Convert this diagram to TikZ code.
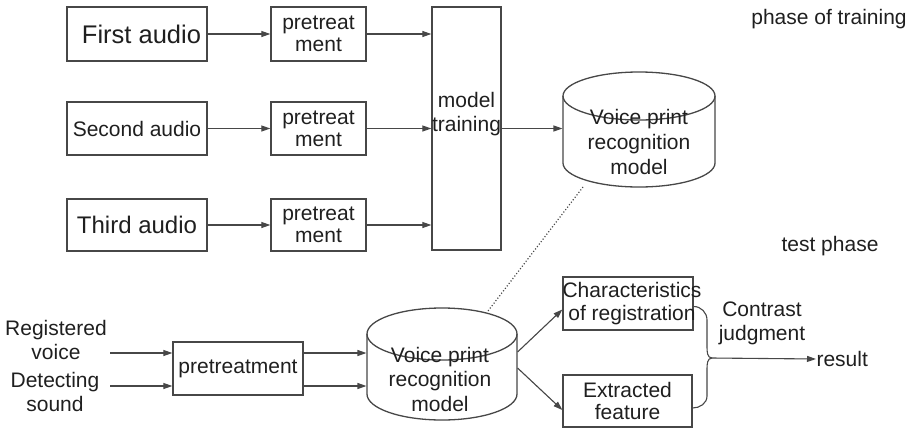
\documentclass[tikz,border=0pt]{standalone}
\usepackage{fontspec}
\setmainfont{Liberation Sans}
\usetikzlibrary{arrows.meta,calc}
\begin{document}
\begin{tikzpicture}[x=1pt,y=-1pt,
  line width=1.1pt,
  txt/.style={font=\fontsize{21}{24}\selectfont, text=black!88, inner sep=0pt, align=center},
  box/.style={draw=black!72, line width=1.3pt, rectangle, inner sep=0pt, align=center,
              font=\fontsize{21}{22}\selectfont, text=black!88},
  ghost/.style={rectangle, draw=none, inner sep=0pt},
  arr/.style={-{Triangle[length=9pt,width=6pt]}, line width=1.1pt, draw=black!72, fill=black!72},
  cyl/.style={draw=black!72, line width=1.3pt},
  ln/.style={draw=black!72, line width=1.1pt}
]
\useasboundingbox (0,0) rectangle (913,429);

% ---------- training phase ----------
\node[box, minimum width=140pt, minimum height=54pt] (a1) at (137,34) {};
\node[txt, font=\fontsize{25.5}{28}\selectfont] (a1t) at (141.5,34) {First audio};
\node[box, minimum width=140pt, minimum height=53pt] (a2) at (137,128.5) {Second audio};
\node[box, minimum width=140pt, minimum height=52pt, font=\fontsize{24}{26}\selectfont] (a3) at (137,225) {Third audio};

\node[box, minimum width=95pt, minimum height=54pt] (p1) at (318.5,34) {pretreat\\ment};
\node[box, minimum width=95pt, minimum height=53pt] (p2) at (318.5,128.5) {pretreat\\ment};
\node[box, minimum width=95pt, minimum height=52pt] (p3) at (318.5,225) {pretreat\\ment};

\node[box, minimum width=69pt, minimum height=243pt] (mt) at (466.5,128.5) {};
\node[txt] (mtt) at (466.5,114) {model\\training};

\draw[arr] (a1.east) -- (p1.west);
\draw[arr] (a2.east) -- (p2.west);
\draw[arr] (a3.east) -- (p3.west);
\draw[arr] (p1.east) -- (p1.east -| mt.west);
\draw[arr] (p2.east) -- (p2.east -| mt.west);
\draw[arr] (p3.east) -- (p3.east -| mt.west);

% top cylinder
\node[ghost, minimum width=152pt, minimum height=115pt] (vp1) at (639,129.5) {};
\draw[cyl] (639,96) ellipse[x radius=76, y radius=24];
\draw[cyl] (563,96) -- (563,163) arc[start angle=180, end angle=0, x radius=76, y radius=24] -- (715,96);
\node[txt, font=\fontsize{21}{25}\selectfont] (vp1t) at (639,142) {Voice print\\recognition\\model};

\draw[arr] (mt.east) -- (mt.east -| vp1.west);

\node[txt] (ph1) at (829,19) {phase of training};
\node[txt] (ph2) at (830,246) {test phase};

% ---------- test phase ----------
\node[txt] (rv) at (56,340) {Registered\\voice};
\node[txt] (ds) at (55,392) {Detecting\\sound};
\coordinate (rvs) at (110,353);
\coordinate (dss) at (110,386);

\node[box, minimum width=130pt, minimum height=53pt] (pt) at (238,368.5) {pretreatment};

\draw[arr] (rvs) -- (rvs -| pt.west);
\draw[arr] (dss) -- (dss -| pt.west);

% bottom cylinder
\node[ghost, minimum width=150pt, minimum height=112pt] (vp2) at (442,364) {};
\draw[cyl] (442,334) ellipse[x radius=75, y radius=26];
\draw[cyl] (367,334) -- (367,394) arc[start angle=180, end angle=0, x radius=75, y radius=26] -- (517,334);
\node[txt, font=\fontsize{21}{24.5}\selectfont] (vp2t) at (440,379) {Voice print\\recognition\\model};

\draw[arr] ($(pt.east)+(0,-15.5)$) -- ($(vp2.west)+(0,-11)$);
\draw[arr] ($(pt.east)+(0,17.5)$) -- ($(vp2.west)+(0,22)$);

% dotted link between models
\draw[ln, dotted, line width=1.2pt] (583,187) -- (488,311);

\node[box, minimum width=130pt, minimum height=53pt] (cb) at (628,303.5) {};
\node[txt, font=\fontsize{21}{23}\selectfont] (cbt) at (632,303.5) {Characteristics\\of registration};
\node[box, minimum width=129pt, minimum height=52pt] (ef) at (627.5,401) {Extracted\\feature};

\draw[arr] ($(vp2.east)+(0,-12)$) -- ($(cb.west)+(0,6)$);
\draw[arr] ($(vp2.east)+(0,4)$) -- ($(ef.west)+(0,9)$);

% brace
\coordinate (bp) at (712,358);
\draw[ln] ($(cb.east)+(0,3)$) to[out=0,in=90] (707,320) -- (707,347) to[out=-90,in=180] (bp);
\draw[ln] (bp) to[out=180,in=90] (707,369) -- (707,396) to[out=-90,in=0] ($(ef.east)+(0,7)$);

\node[txt, anchor=west] (res) at (816,359) {result};
\draw[arr] (bp) -- (res.west);
\node[txt] (cj) at (762,323) {Contrast\\judgment};

\end{tikzpicture}
\end{document}
